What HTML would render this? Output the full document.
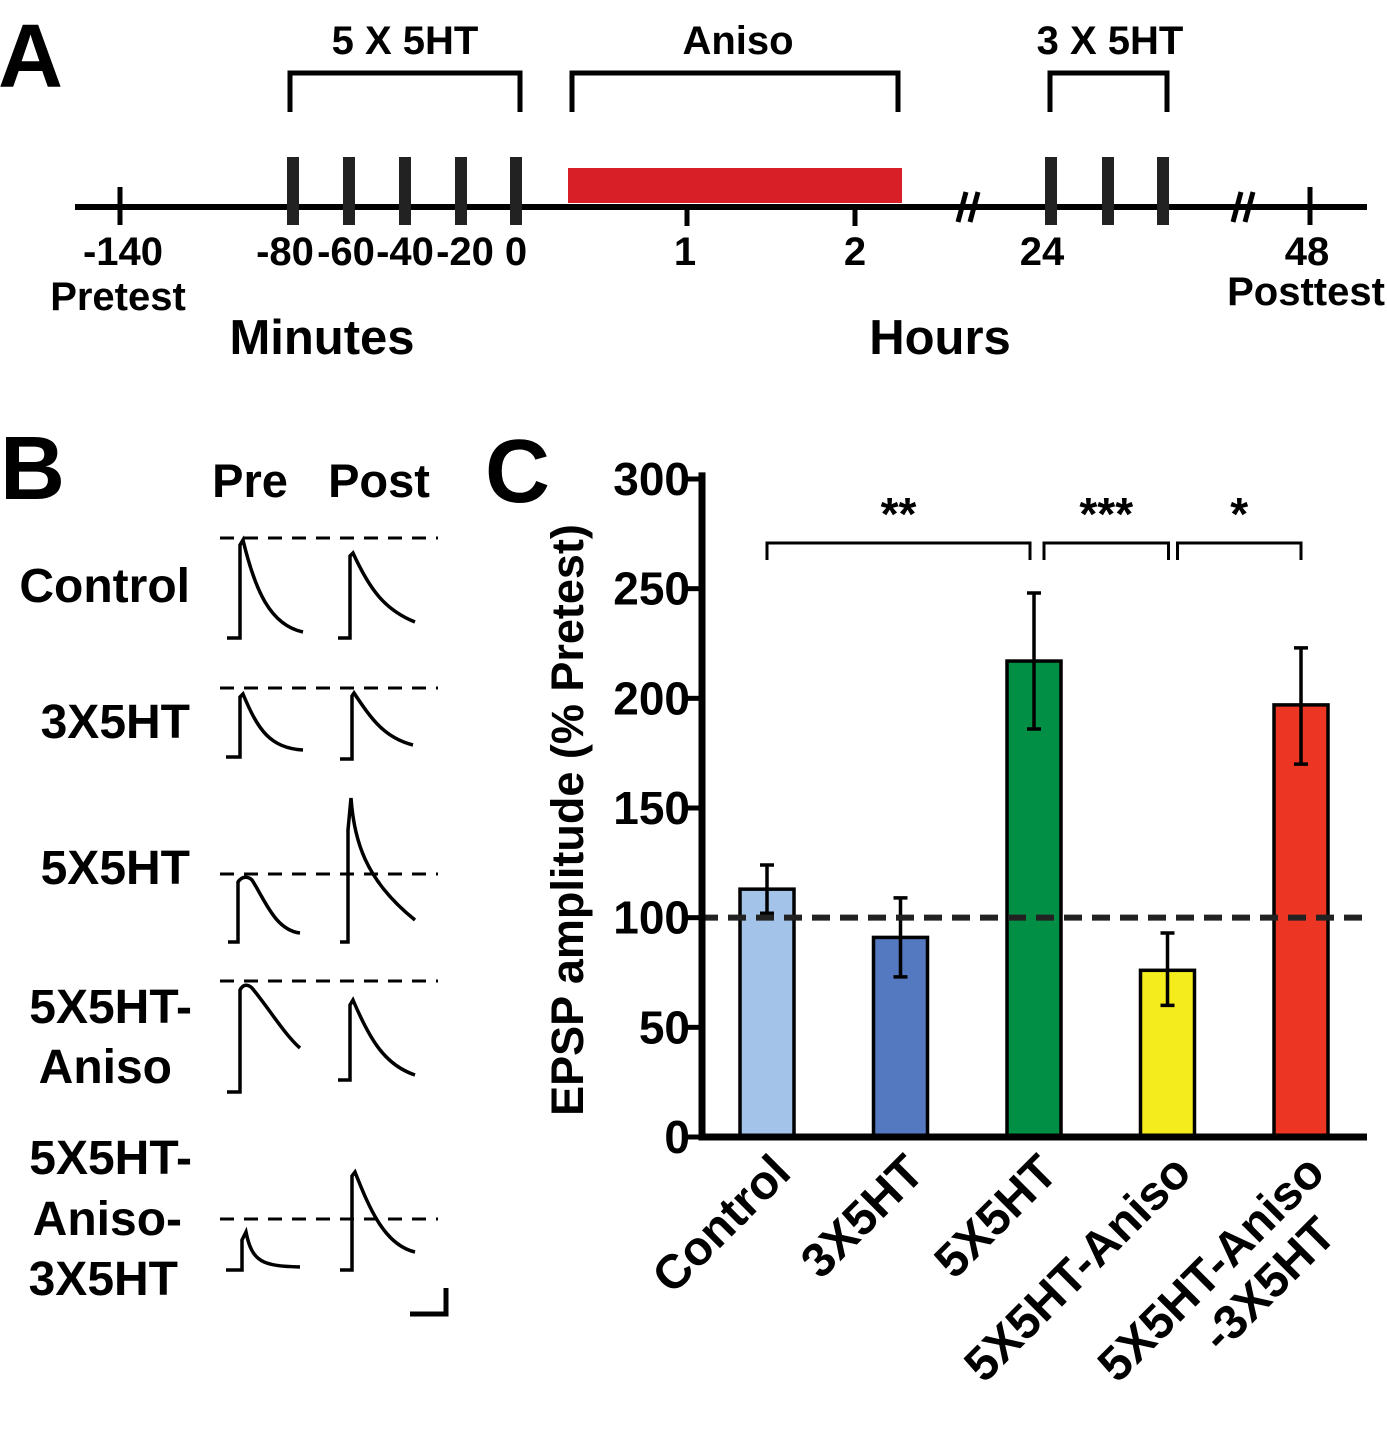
<!DOCTYPE html>
<html><head><meta charset="utf-8"><style>
body{margin:0;background:#fff}
svg{display:block;font-family:"Liberation Sans",Arial,sans-serif;font-weight:bold}
</style></head><body>
<svg id="fig" width="1387" height="1452" viewBox="0 0 1387 1452">
<!-- Panel A -->
<g>
<text x="-2" y="87" font-size="90">A</text>
<line x1="75" y1="207" x2="1367" y2="207" stroke="#000" stroke-width="6"/>
<rect x="568" y="168" width="334" height="35" fill="#d81e27"/>
<g stroke="#000" stroke-width="5" fill="none">
<line x1="120" y1="187" x2="120" y2="225"/>
<line x1="687" y1="207" x2="687" y2="226"/><line x1="855" y1="207" x2="855" y2="226"/>
<line x1="1310" y1="187" x2="1310" y2="225"/>
<polyline points="290,112 290,73 520,73 520,112"/>
<polyline points="572,112 572,73 898,73 898,112"/>
<polyline points="1050,112 1050,73 1167,73 1167,112"/>
</g>
<g fill="#222">
<rect x="287" y="157" width="12" height="68"/><rect x="343" y="157" width="12" height="68"/>
<rect x="399" y="157" width="12" height="68"/><rect x="455" y="157" width="12" height="68"/>
<rect x="510" y="157" width="12" height="68"/>
<rect x="1045" y="157" width="12" height="68"/><rect x="1102" y="157" width="12" height="68"/>
<rect x="1157" y="157" width="12" height="68"/>
</g>
<g stroke="#fff" stroke-width="8"><line x1="962" y1="198" x2="982" y2="198"/><line x1="1237" y1="198" x2="1257" y2="198"/></g>
<g stroke="#000" stroke-width="5"><line x1="958" y1="222" x2="966" y2="192"/><line x1="970" y1="222" x2="978" y2="192"/>
<line x1="1233" y1="222" x2="1241" y2="192"/><line x1="1245" y1="222" x2="1253" y2="192"/></g>
<g font-size="40" text-anchor="middle">
<text x="123" y="265">-140</text><text x="118" y="310">Pretest</text>
<text x="285" y="265">-80</text><text x="346" y="265">-60</text><text x="405" y="265">-40</text><text x="465" y="265">-20</text><text x="516" y="265">0</text>
<text x="685" y="265">1</text><text x="855" y="265">2</text><text x="1042" y="265">24</text>
<text x="1307" y="265">48</text><text x="1306" y="305">Posttest</text>
<text x="405" y="54">5 X 5HT</text><text x="738" y="54">Aniso</text><text x="1110" y="54">3 X 5HT</text>
<text x="322" y="354" font-size="49">Minutes</text><text x="940" y="354" font-size="49">Hours</text>
</g>
</g>
<!-- Panel B -->
<g>
<text x="0" y="499" font-size="90">B</text>
<g font-size="47" text-anchor="middle"><text x="250" y="497">Pre</text><text x="379" y="497">Post</text></g>
<g font-size="48" text-anchor="end">
<text x="190" y="602">Control</text><text x="190" y="738">3X5HT</text><text x="190" y="884">5X5HT</text>
<text x="192" y="1023">5X5HT-</text><text x="172" y="1083">Aniso</text>
<text x="192" y="1174">5X5HT-</text><text x="182" y="1235">Aniso-</text><text x="178" y="1295">3X5HT</text>
</g>
<g stroke="#000" stroke-width="3" stroke-dasharray="14,10">
<line x1="220" y1="538" x2="438" y2="538"/><line x1="220" y1="688" x2="438" y2="688"/>
<line x1="220" y1="874" x2="438" y2="874"/><line x1="220" y1="981" x2="438" y2="981"/>
<line x1="220" y1="1219" x2="438" y2="1219"/>
</g>
<g stroke="#000" stroke-width="3.5" fill="none">
<path d="M227 638 H240 V545 L243 540 C255 590 270 625 303 632"/>
<path d="M338 638 H350 V556 L353 553 C370 590 385 610 415 622"/>
<path d="M226 757 H240 V697 L243 694 C258 730 270 748 303 750"/>
<path d="M340 759 H352 V696 L354 693 C372 720 385 738 413 745"/>
<path d="M228 942 H238 V882 C242 876 248 876 252 880 C265 900 275 930 300 933"/>
<path d="M340 942 H348 V830 L351 798 C354 840 365 880 415 920"/>
<path d="M227 1092 H240 V990 C243 984 248 984 252 988 C270 1010 285 1035 300 1048"/>
<path d="M338 1080 H350 V1005 L353 1000 C370 1040 385 1065 415 1075"/>
<path d="M226 1270 H242 V1240 L246 1232 C252 1262 262 1266 300 1267"/>
<path d="M340 1270 H352 V1176 L355 1172 C370 1210 385 1245 415 1252"/>
</g>
<polyline points="410,1314 446,1314 446,1288" stroke="#000" stroke-width="5" fill="none"/>
</g>
<!-- Panel C -->
<g id="chart">
<text x="485" y="502" font-size="90">C</text>
<text transform="translate(583,820) rotate(-90)" font-size="45" text-anchor="middle">EPSP amplitude (% Pretest)</text>
</g>
</svg>
<script>
const categories=["Control","3X5HT","5X5HT","5X5HT-Aniso","5X5HT-Aniso\n-3X5HT"];
const means=[113,91,217,76,197];
const errLow=[102,73,186,60,170];
const errHigh=[124,109,248,93,223];
const colors=["#a3c4e8","#5479c0","#008f45","#f5ec1e","#ec3623"];
const yTicks=[0,50,100,150,200,250,300];
const sigLabels=["**","***","*"];
const sigPairs=[[0,2],[2,3],[3,4]];
const NS="http://www.w3.org/2000/svg";
const g=document.getElementById('chart');
const y0=1137,pxPer=658/300;
const Y=v=>y0-v*pxPer;
const X=i=>767+i*133.5;
function mk(t,a,p){const e=document.createElementNS(NS,t);for(const k in a)e.setAttribute(k,a[k]);(p||g).appendChild(e);return e;}
yTicks.forEach(t=>{
 const l=mk('line',{x1:686,x2:700,y1:Y(t),y2:Y(t),stroke:'#000','stroke-width':5});
 
 
 const tx=mk('text',{x:690,y:Y(t)+16,'font-size':46,'text-anchor':'end'});tx.textContent=t;
 
 
});
categories.forEach((c,i)=>{
 const r=mk('rect',{x:X(i)-27,y:Y(means[i]),width:54,height:y0-Y(means[i]),fill:colors[i],stroke:'#000','stroke-width':3.5});
 
 
 const eb=mk('path',{d:`M${X(i)} ${Y(errLow[i])}V${Y(errHigh[i])}M${X(i)-7} ${Y(errLow[i])}h14M${X(i)-7} ${Y(errHigh[i])}h14`,stroke:'#000','stroke-width':3.5,fill:'none'});
 
 
 const lines=c.split('\n');
 const t=mk('text',{transform:`translate(${X(i)+2},${y0+14}) rotate(-45)`,'font-size':48,'text-anchor':'end'});
 
 
 lines.forEach((s,k)=>{const ts=mk('tspan',{x:k?-36:0,dy:k?52:34},t);ts.textContent=s;});
});
const dl=mk('line',{x1:700,x2:1367,y1:Y(100),y2:Y(100),stroke:'#222','stroke-width':6,'stroke-dasharray':'18,10'});


const ax=mk('path',{d:`M702 ${Y(303)}V${y0}H1367`,stroke:'#000','stroke-width':7,fill:'none'});


sigPairs.forEach((p,k)=>{
 const x2=k==0?X(p[1])-4:(k==1?X(p[1])+1:X(p[1]));
 const x1=k==0?X(p[0]):X(p[0])+10;
 const br=mk('polyline',{points:`${x1},560 ${x1},543 ${x2},543 ${x2},560`,stroke:'#000','stroke-width':3,fill:'none'});
 
 
 const s=mk('text',{x:(x1+x2)/2,y:530,'font-size':46,'text-anchor':'middle'});s.textContent=sigLabels[k];
 
 
});
</script>
</body></html>
